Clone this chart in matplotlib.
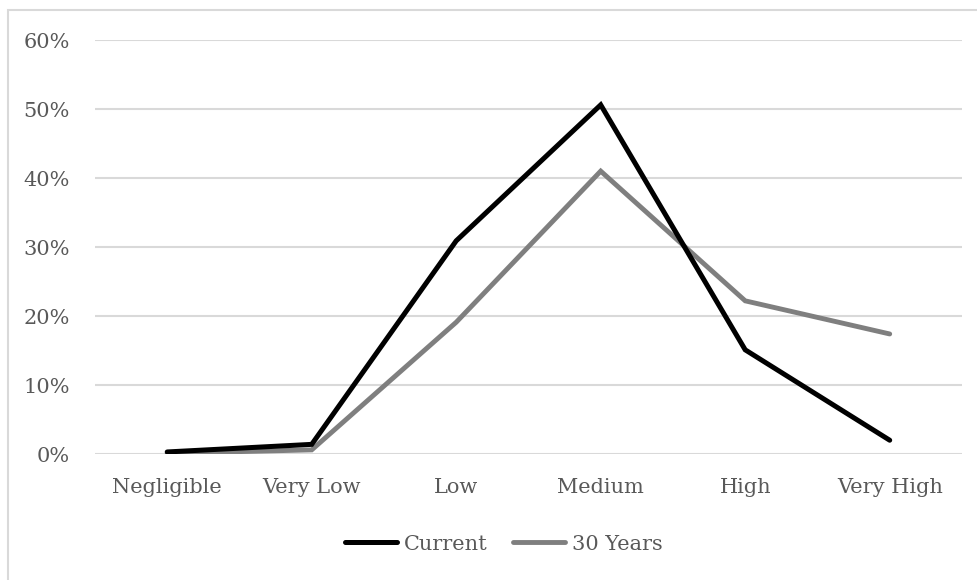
import numpy as np
import matplotlib.pyplot as plt
from matplotlib.patches import Rectangle
from matplotlib.ticker import PercentFormatter

# Risk categories and share of area in each
categories = ['Negligible', 'Very Low', 'Low', 'Medium', 'High', 'Very High']
current = [0.3, 1.4, 30.9, 50.6, 15.1, 2.0]
years_30 = [0.1, 0.6, 19.1, 41.0, 22.2, 17.4]

plt.rcParams['font.family'] = ['DejaVu Serif']
text_col = '#595959'

fig = plt.figure(figsize=(9.78, 5.8), dpi=100)
ax = fig.add_axes([0.0971, 0.2172, 0.8865, 0.7138])

x = np.arange(len(categories))
ax.plot(x, current, color='black', lw=3.6, solid_capstyle='round',
        solid_joinstyle='miter', label='Current', zorder=3)
ax.plot(x, years_30, color='#7f7f7f', lw=3.5, solid_capstyle='round',
        solid_joinstyle='miter', label='30 Years', zorder=2)

ax.set_xlim(-0.5, len(categories) - 0.5)
ax.set_ylim(0, 60)
ax.set_yticks(np.arange(0, 61, 10))
ax.yaxis.set_major_formatter(PercentFormatter(decimals=0))
ax.set_xticks(x)
ax.set_xticklabels(categories)

ax.grid(axis='y', color='#d9d9d9', lw=1.5)
ax.set_axisbelow(True)
for s in ax.spines.values():
    s.set_visible(False)
ax.tick_params(axis='both', length=0, labelsize=15, labelcolor=text_col)
ax.tick_params(axis='y', pad=18)
ax.tick_params(axis='x', pad=17)

fig.legend(loc='center', bbox_to_anchor=(0.515, 0.062), ncol=2, frameon=False,
           fontsize=15, handlelength=2.5, handletextpad=0.3, columnspacing=1.25,
           labelcolor=text_col)

# light frame round the chart
fig.patches.append(Rectangle((8 / 978, -0.1), 1.2, (580 - 10) / 580 + 0.1,
                             transform=fig.transFigure, fill=False,
                             edgecolor='#d9d9d9', lw=1.5))

fig.savefig('out.png', dpi=100)
